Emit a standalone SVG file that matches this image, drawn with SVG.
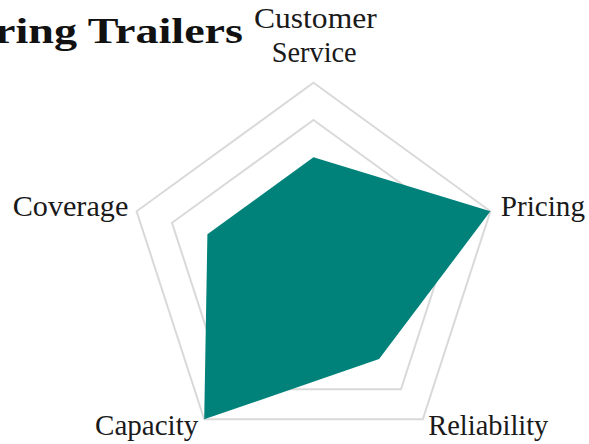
<svg xmlns="http://www.w3.org/2000/svg" width="589" height="444" viewBox="0 0 589 444">
  <style>
    .grid { fill: none; stroke: #d9d9d9; stroke-width: 2; stroke-linejoin: miter; }
    .data { fill: #00827a; stroke: none; }
    .lbl { font-family: "Liberation Serif", "Times New Roman", serif; font-size: 30px; fill: #1a1a1a; }
    .title { font-family: "Liberation Serif", "Times New Roman", serif; font-size: 36px; font-weight: bold; fill: #111111; }
  </style>
  <rect x="0" y="0" width="589" height="444" fill="#ffffff"/>
  <g id="title">
    <text class="title" x="-5" y="43" textLength="248" lengthAdjust="spacingAndGlyphs">ring Trailers</text>
  </g>
  <g id="grid">
    <polygon class="grid" points="313.5,82.8 490.4,211.3 422.8,419.3 204.2,419.3 136.6,211.3"/>
    <polygon class="grid" points="313.5,120 455,222.8 401,389.2 226,389.2 172,222.8"/>
  </g>
  <g id="series">
    <polygon class="data" points="313.5,157.2 490.4,211.3 379.1,359.1 204.2,419.3 207.4,234.3"/>
  </g>
  <g id="axis-labels">
    <g id="label-customer-service">
      <text class="lbl" x="254" y="28" textLength="122.7" lengthAdjust="spacingAndGlyphs">Customer</text>
      <text class="lbl" x="271.7" y="62" textLength="85" lengthAdjust="spacingAndGlyphs">Service</text>
    </g>
    <g id="label-pricing">
      <text class="lbl" x="500.7" y="216" textLength="84.3" lengthAdjust="spacingAndGlyphs">Pricing</text>
    </g>
    <g id="label-reliability">
      <text class="lbl" x="428.3" y="435" textLength="120" lengthAdjust="spacingAndGlyphs">Reliability</text>
    </g>
    <g id="label-capacity">
      <text class="lbl" x="95" y="435" textLength="103.3" lengthAdjust="spacingAndGlyphs">Capacity</text>
    </g>
    <g id="label-coverage">
      <text class="lbl" x="12.7" y="216" textLength="115.6" lengthAdjust="spacingAndGlyphs">Coverage</text>
    </g>
  </g>
</svg>
